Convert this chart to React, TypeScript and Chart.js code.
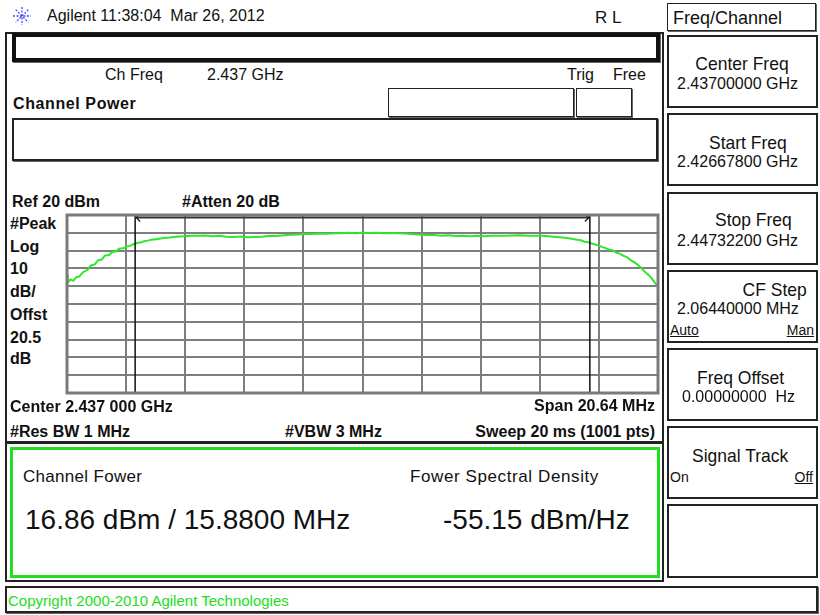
import React, { useEffect, useRef } from "react";
import { Chart, registerables } from "chart.js";

Chart.register(...registerables);

// ---- data ----
const spanMHz = 20.64;
const integBwMHz = 15.88;
const refLevelDbm = 20;
const bottomLevelDbm = -80;
const xGridMHz = [-10.32, -8.256, -6.192, -4.128, -2.064, 0, 2.064, 4.128, 6.192, 8.256, 10.32];
const yGridDbm = [-80, -70, -60, -50, -40, -30, -20, -10, 0, 10, 20];
const traceOffsetMHz = [
  -10.32, -10.29, -10.2, -10.1, -10.0, -9.9, -9.75, -9.6, -9.5, -9.35, -9.25, -9.1, -9.0, -8.85, -8.75,
  -8.6, -8.5, -8.35, -8.25, -8.1, -8.0, -7.85, -7.75, -7.6, -7.5, -7.35, -7.25, -7.0, -6.75, -6.5,
  -6.25, -6.0, -5.75, -5.5, -5.25, -5.0, -4.75, -4.5, -4.25, -4.0, -3.75, -3.5, -3.25, -3.0, -2.75,
  -2.5, -2.25, -2.0, -1.75, -1.5, -1.25, -1.0, -0.75, -0.5, -0.25, 0, 0.25, 0.5, 0.75, 1.0,
  1.25, 1.5, 1.75, 2.0, 2.25, 2.5, 2.75, 3.0, 3.25, 3.5, 3.75, 4.0, 4.25, 4.5, 4.75,
  5.0, 5.25, 5.5, 5.75, 6.0, 6.25, 6.5, 6.75, 7.0, 7.25, 7.5, 7.6, 7.75, 7.85, 8.0,
  8.1, 8.25, 8.35, 8.5, 8.6, 8.75, 8.85, 9.0, 9.1, 9.25, 9.35, 9.5, 9.6, 9.75, 9.85,
  10.0, 10.1, 10.2, 10.32,
];
const tracePowerDbm = [
  -13.5, -18.0, -16.2, -17.0, -15.0, -14.6, -12.0, -10.8, -8.5, -7.8, -5.6, -4.9, -2.8, -2.5, -0.9,
  -0.4, 1.0, 1.3, 2.2, 2.8, 3.6, 4.4, 4.6, 5.4, 5.6, 6.2, 6.3, 7.0, 7.3, 7.8,
  8.0, 8.4, 8.3, 8.5, 8.1, 8.3, 7.8, 7.7, 7.9, 7.5, 7.7, 7.8, 8.3, 8.2, 8.6,
  8.9, 9.0, 9.4, 9.3, 9.6, 9.5, 9.8, 9.7, 10.0, 9.8, 10.0, 9.9, 10.0, 9.8, 9.9,
  9.7, 9.6, 9.2, 9.1, 8.8, 8.7, 8.4, 8.6, 8.2, 8.4, 8.0, 8.3, 8.1, 8.3, 8.3,
  8.4, 8.5, 8.6, 8.4, 8.4, 8.3, 8.0, 7.7, 7.3, 6.8, 6.1, 5.9, 5.0, 4.9, 4.0,
  3.6, 2.9, 2.1, 1.4, 0.6, 0.1, -1.0, -1.8, -2.8, -3.8, -5.2, -6.6, -7.8, -10.0, -11.8,
  -13.8, -15.6, -17.8, -20.3,
];

const FONT = '"Liberation Sans", Arial, sans-serif';
const GREEN = "#22dd22";
const TRACE = "#2ee62e";

function T(props: any) {
  const { x, y, s = 16, b = false, c = "#111", a = "left", ls = 0, u = false, sx = 1, children } = props;
  const style: any = {
    position: "absolute",
    top: y,
    fontSize: s,
    fontWeight: b ? "bold" : "normal",
    color: c,
    letterSpacing: ls,
    lineHeight: 1,
    whiteSpace: "pre",
    textDecoration: u ? "underline" : "none",
    fontFamily: FONT,
  };
  if (a === "right") {
    style.right = 820 - x;
    style.transform = `translateY(-50%) scaleX(${sx})`;
    style.transformOrigin = "right center";
  } else if (a === "center") {
    style.left = x;
    style.transform = `translate(-50%,-50%) scaleX(${sx})`;
  } else {
    style.left = x;
    style.transform = `translateY(-50%) scaleX(${sx})`;
    style.transformOrigin = "left center";
  }
  return <div style={style}>{children}</div>;
}

function Box(props: any) {
  const { x1, y1, x2, y2, bw = 2, c = "#222", sh = false } = props;
  return (
    <div
      style={{
        position: "absolute",
        left: x1,
        top: y1,
        width: x2 - x1,
        height: y2 - y1,
        border: `${bw}px solid ${c}`,
        boxSizing: "border-box",
        boxShadow: sh ? "1px 1px 0 #666" : "none",
      }}
    />
  );
}

const markerPlugin = {
  id: "chanMarkers",
  afterDatasetsDraw(chart: any) {
    const { ctx, chartArea } = chart;
    const xs = chart.scales.x;
    const xl = xs.getPixelForValue(-integBwMHz / 2);
    const xr = xs.getPixelForValue(integBwMHz / 2);
    ctx.save();
    ctx.strokeStyle = "#111";
    ctx.lineWidth = 1.5;
    ctx.beginPath();
    ctx.moveTo(xl, chartArea.top);
    ctx.lineTo(xl, chartArea.bottom);
    ctx.moveTo(xr, chartArea.top);
    ctx.lineTo(xr, chartArea.bottom);
    ctx.stroke();
    const yt = chartArea.top + 2.5;
    ctx.strokeStyle = "#333";
    ctx.lineWidth = 2;
    ctx.beginPath();
    ctx.moveTo(xl, yt);
    ctx.lineTo(xr, yt);
    ctx.stroke();
    ctx.strokeStyle = "#111";
    ctx.lineWidth = 1.2;
    ctx.beginPath();
    ctx.moveTo(xl + 5, yt - 3);
    ctx.lineTo(xl + 1, yt);
    ctx.lineTo(xl + 5, yt + 4);
    ctx.moveTo(xr - 5, yt - 3);
    ctx.lineTo(xr - 1, yt);
    ctx.lineTo(xr - 5, yt + 4);
    ctx.stroke();
    // outer frame
    ctx.strokeStyle = "#7a7a7a";
    ctx.lineWidth = 3;
    ctx.strokeRect(chartArea.left, chartArea.top, chartArea.right - chartArea.left, chartArea.bottom - chartArea.top);
    ctx.restore();
  },
};

function SpectrumChart() {
  const ref = useRef<HTMLCanvasElement | null>(null);
  useEffect(() => {
    if (!ref.current) return;
    const chart = new Chart(ref.current, {
      type: "line",
      data: {
        datasets: [
          {
            data: traceOffsetMHz.map((f, i) => ({ x: f, y: tracePowerDbm[i] })),
            borderColor: TRACE,
            borderWidth: 2,
            pointRadius: 0,
            tension: 0,
            fill: false,
          },
        ],
      },
      options: {
        animation: false,
        responsive: false,
        devicePixelRatio: 1,
        layout: { padding: { left: 7, top: 7, right: 8, bottom: 7 } },
        plugins: { legend: { display: false }, tooltip: { enabled: false } },
        scales: {
          x: {
            type: "linear",
            min: -spanMHz / 2,
            max: spanMHz / 2,
            afterBuildTicks: (s: any) => {
              s.ticks = xGridMHz.map((v) => ({ value: v }));
            },
            ticks: { display: false },
            grid: { color: "#7e7e7e", lineWidth: 2, drawTicks: false },
            border: { display: false },
          },
          y: {
            type: "linear",
            min: bottomLevelDbm,
            max: refLevelDbm,
            afterBuildTicks: (s: any) => {
              s.ticks = yGridDbm.map((v) => ({ value: v }));
            },
            ticks: { display: false },
            grid: { color: "#7e7e7e", lineWidth: 2, drawTicks: false },
            border: { display: false },
          },
        },
      },
      plugins: [markerPlugin],
    } as any);
    return () => chart.destroy();
  }, []);
  return (
    <canvas
      ref={ref}
      width={606}
      height={192}
      style={{ position: "absolute", left: 60, top: 208, width: 606, height: 192 }}
    />
  );
}

function Logo() {
  const rays = [0, 45, 90, 135];
  return (
    <svg width="22" height="20" style={{ position: "absolute", left: 11, top: 6 }}>
      {rays.map((r) => (
        <line
          key={r}
          x1="2"
          y1="10"
          x2="20"
          y2="10"
          stroke="#3a4cff"
          strokeWidth="1.3"
          strokeDasharray="2 1.5"
          transform={`rotate(${r} 11 10)`}
        />
      ))}
    </svg>
  );
}

export default function App() {
  useEffect(() => {
    document.body.style.margin = "0";
  }, []);
  return (
    <div
      style={{
        position: "fixed",
        left: 0,
        top: 0,
        width: 820,
        height: 615,
        background: "#fff",
        overflow: "hidden",
        fontFamily: FONT,
      }}
    >
      {/* header */}
      <Logo />
      <T x={47} y={16} s={16}>Agilent 11:38:04  Mar 26, 2012</T>
      <T x={595} y={17} s={17}>R L</T>
      <Box x1={667} y1={3} x2={816} y2={31} bw={1.5} sh />
      <T x={673} y={18} s={18}>Freq/Channel</T>

      {/* main frame */}
      <Box x1={5} y1={32} x2={664} y2={582} bw={2} />
      <Box x1={12} y1={33} x2={660} y2={62} bw={4} c="#111" sh />
      <T x={105} y={75} s={16}>Ch Freq</T>
      <T x={207} y={75} s={16}>2.437 GHz</T>
      <T x={567} y={75} s={16}>Trig</T>
      <T x={613} y={75} s={16}>Free</T>
      <T x={13} y={104} s={16} b ls={0.6}>Channel Power</T>
      <Box x1={388} y1={88} x2={574} y2={117} bw={1.5} sh />
      <Box x1={576} y1={88} x2={632} y2={117} bw={1.5} sh />
      <Box x1={12} y1={118} x2={658} y2={161} bw={2} sh />

      <T x={12} y={202} s={16} b>Ref 20 dBm</T>
      <T x={182} y={202} s={16} b>#Atten 20 dB</T>
      <T x={10} y={224} s={16} b>#Peak</T>
      <T x={10} y={247} s={16} b>Log</T>
      <T x={10} y={269} s={16} b>10</T>
      <T x={10} y={292} s={16} b>dB/</T>
      <T x={10} y={315} s={16} b>Offst</T>
      <T x={10} y={338} s={16} b>20.5</T>
      <T x={10} y={359} s={16} b>dB</T>

      <SpectrumChart />

      <T x={10} y={407} s={16} b>Center 2.437 000 GHz</T>
      <T x={655} y={406} s={16} b a="right">Span 20.64 MHz</T>
      <T x={10} y={432} s={16} b>#Res BW 1 MHz</T>
      <T x={285} y={432} s={16} b>#VBW 3 MHz</T>
      <T x={655} y={432} s={16} b a="right">Sweep 20 ms (1001 pts)</T>
      <div style={{ position: "absolute", left: 5, top: 441, width: 659, height: 3, background: "#222" }} />

      {/* results */}
      <Box x1={10} y1={447} x2={660} y2={578} bw={3} c={GREEN} />
      <T x={23} y={476} s={17} ls={0.3}>Channel Fower</T>
      <T x={410} y={476} s={17} ls={0.6}>Fower Spectral Density</T>
      <T x={25} y={520} s={28}>16.86 dBm / 15.8800 MHz</T>
      <T x={443} y={520} s={28}>-55.15 dBm/Hz</T>

      {/* copyright */}
      <Box x1={5} y1={586} x2={818} y2={613} bw={2} sh />
      <T x={8} y={600} s={15} c={GREEN}>Copyright 2000-2010 Agilent Technologies</T>

      {/* softkeys */}
      <div style={{ position: "absolute", left: 662, top: 32, width: 2, height: 550, background: "#222" }} />
      <Box x1={667} y1={35} x2={818} y2={108} bw={2.5} />
      <T x={742} y={63} s={19} a="center" sx={0.92}>Center Freq</T>
      <T x={677} y={84} s={16}>2.43700000 GHz</T>

      <Box x1={667} y1={113} x2={818} y2={186} bw={2.5} />
      <T x={709} y={142} s={19} sx={0.92}>Start Freq</T>
      <T x={677} y={162} s={16}>2.42667800 GHz</T>

      <Box x1={667} y1={192} x2={818} y2={265} bw={2.5} />
      <T x={715} y={219} s={19} sx={0.92}>Stop Freq</T>
      <T x={677} y={241} s={16}>2.44732200 GHz</T>

      <Box x1={667} y1={270} x2={818} y2={343} bw={2.5} />
      <T x={807} y={289} s={19} a="right" sx={0.92}>CF Step</T>
      <T x={677} y={309} s={16}>2.06440000 MHz</T>
      <T x={670} y={330} s={14} u>Auto</T>
      <T x={814} y={330} s={14} u a="right">Man</T>

      <Box x1={667} y1={348} x2={818} y2={421} bw={2.5} />
      <T x={697} y={377} s={19} sx={0.92}>Freq Offset</T>
      <T x={682} y={397} s={16}>0.00000000  Hz</T>

      <Box x1={667} y1={426} x2={818} y2={499} bw={2.5} />
      <T x={692} y={455} s={19} sx={0.92}>Signal Track</T>
      <T x={670} y={477} s={14}>On</T>
      <T x={813} y={477} s={14} u a="right">Off</T>

      <Box x1={667} y1={504} x2={818} y2={578} bw={2.5} />
    </div>
  );
}
